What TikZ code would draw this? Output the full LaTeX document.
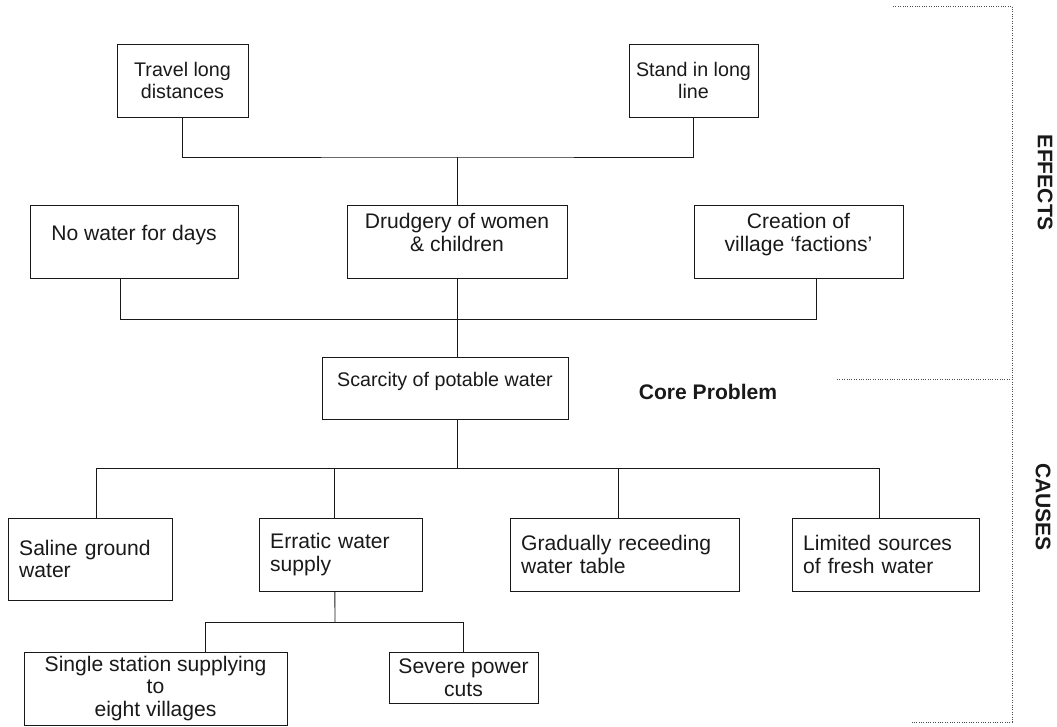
\documentclass[tikz,border=0pt]{standalone}
\usepackage{fontspec}
\setmainfont{Liberation Sans}
\usetikzlibrary{calc}

\begin{document}
\begin{tikzpicture}[x=0.025cm, y=-0.025cm,
    box/.style={rectangle, draw=black!90, line width=0.65pt, align=center, inner xsep=2pt, inner ysep=3pt,
      font=\fontsize{15pt}{16pt}\selectfont, text=black!90},
    smallbox/.style={box, font=\fontsize{14pt}{16pt}\selectfont},
    leftbox/.style={box, align=left, inner xsep=0.28cm},
    raised/.style={text depth=13pt},
    link/.style={draw=black!90, line width=0.65pt},
    bracket/.style={draw=black!70, line width=0.7pt, densely dotted},
    side/.style={font=\fontsize{15pt}{16pt}\selectfont\bfseries, rotate=-90, text=black!90}]
    \useasboundingbox (0,0) rectangle (1057,726);

    % effects
    \node[smallbox, minimum width=3.275cm, minimum height=1.825cm] (travel) at (182.5,80.5) {Travel long\\distances};
    \node[smallbox, minimum width=3.225cm, minimum height=1.825cm] (stand) at (693.5,80.5) {Stand in long\\line};
    \node[box, raised, minimum width=5.2cm, minimum height=1.825cm] (nowater) at (134,241.5) {No water for days};
    \node[box, raised, minimum width=5.5cm, minimum height=1.825cm] (drudgery) at (457,241.5) {Drudgery of women\\\& children};
    \node[box, raised, minimum width=5.225cm, minimum height=1.825cm] (creation) at (798.5,241.5) {Creation of\\village `factions'};

    % core problem
    \node[smallbox, raised, minimum width=6.15cm, minimum height=1.55cm] (scarcity) at (445,388) {Scarcity of potable water};
    \node[font=\fontsize{15pt}{16pt}\selectfont\bfseries, anchor=base, text=black!90] (core) at (708,399) {Core Problem};

    % causes
    \node[leftbox, text width=3.54cm, minimum height=2.05cm] (saline) at (90,559) {Saline ground\\water};
    \node[leftbox, text width=3.515cm, minimum height=1.825cm] (erratic) at (340.5,554.5) {Erratic water\\supply};
    \node[leftbox, text width=5.165cm, minimum height=1.825cm] (gradual) at (624.5,554.5) {Gradually receeding\\water table};
    \node[leftbox, text width=4.115cm, minimum height=1.825cm] (limited) at (885.5,554.5) {Limited sources\\of fresh water};
    \node[box, minimum width=6.575cm, minimum height=1.825cm] (single) at (155.5,688.5) {Single station supplying\\to\\eight villages};
    \node[box, minimum width=3.725cm, minimum height=1.275cm] (severe) at (463.5,677.5) {Severe power\\cuts};

    % tree lines
    \coordinate (efftop) at (457,157);
    \coordinate (effmid) at (457,319);
    \coordinate (causetop) at (457,468);
    \coordinate (supplyjoin) at (335,622);
    \draw[link] (travel.south) |- (efftop) -| (stand.south);
    \draw[link] (efftop) -- (drudgery.north);
    \draw[link] ([xshift=-0.35cm]nowater.south) |- (effmid) -| ([xshift=0.44cm]creation.south);
    \draw[link] (drudgery.south) -- (drudgery.south |- scarcity.north);
    \draw[link] (causetop |- scarcity.south) -- (causetop);
    \draw[link] ([xshift=0.15cm]saline.north) |- (causetop) -| ([xshift=-0.14cm]limited.north);
    \draw[link] ([xshift=-0.14cm]erratic.north) -- ([xshift=-0.14cm]erratic.north |- causetop);
    \draw[link] ([xshift=-0.16cm]gradual.north) -- ([xshift=-0.16cm]gradual.north |- causetop);
    \draw[link] ([xshift=-0.14cm]erratic.south) -- (supplyjoin);
    \draw[link] ([xshift=1.24cm]single.north) |- (supplyjoin) -| (severe.north);

    % side bracket
    \coordinate (brtop) at (1012,6);
    \coordinate (brmid) at (1012,379);
    \coordinate (brbot) at (1012,722);
    \draw[bracket] (893,6) -- (brtop) -- (brbot) -- (912,722);
    \draw[bracket] (837,379) -- (brmid);
    \node[side] (effects) at (1045,183) {EFFECTS};
    \node[side] (causes) at (1043,507) {CAUSES};
\end{tikzpicture}
\end{document}
